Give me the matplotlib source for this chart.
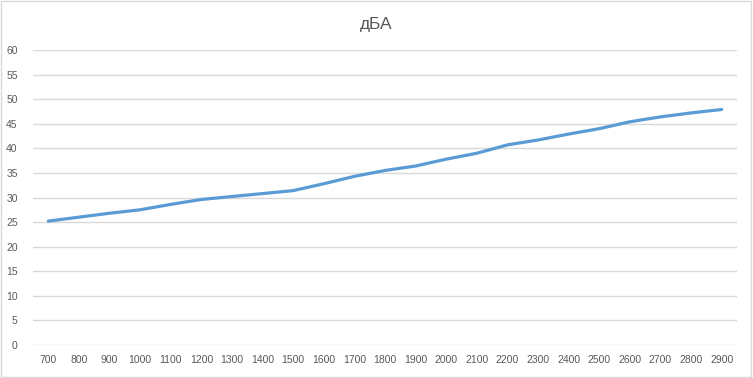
import matplotlib
matplotlib.use("Agg")
import matplotlib.pyplot as plt
from matplotlib.patches import Rectangle

# данные
rpm = [700, 800, 900, 1000, 1100, 1200, 1300, 1400, 1500, 1600, 1700, 1800,
       1900, 2000, 2100, 2200, 2300, 2400, 2500, 2600, 2700, 2800, 2900]
dba = [25.2, 26.0, 26.8, 27.5, 28.6, 29.6, 30.2, 30.8, 31.4, 32.8, 34.3, 35.5,
       36.4, 37.8, 39.0, 40.7, 41.7, 42.9, 44.0, 45.4, 46.4, 47.2, 47.9]
yticks = list(range(0, 61, 5))
title = "дБА"

plt.rcParams['font.family'] = ['Liberation Sans', 'DejaVu Sans']

fig = plt.figure(figsize=(7.53, 3.78), dpi=100)
ax = fig.add_axes([33 / 753, 1 - 345 / 378, 704 / 753, 295 / 378])

xs = list(range(len(rpm)))
ax.plot(xs, dba, color="#5B9BD5", lw=2.3, solid_capstyle="round")

ax.set_xlim(-0.5, len(rpm) - 0.5)
ax.set_ylim(0, 60)
ax.set_yticks(yticks)
ax.set_xticks(xs)
ax.set_xticklabels([str(r) for r in rpm])
ax.grid(axis="y", color="#D9D9D9", lw=1)
ax.set_axisbelow(True)
for s in ax.spines.values():
    s.set_visible(False)
ax.tick_params(length=0, labelsize=7.5, colors="#595959")
ax.tick_params(axis="x", pad=7)
ax.tick_params(axis="y", pad=11)

fig.text(0.5, 1 - 25 / 378, title, ha="center", va="center",
         fontsize=12.5, color="#595959")

# рамка диаграммы
fig.patches.append(Rectangle((0.001, 0.002), 0.997, 0.995, transform=fig.transFigure,
                             fill=False, edgecolor="#D9D9D9", lw=1))

fig.savefig("out.png", dpi=100)
